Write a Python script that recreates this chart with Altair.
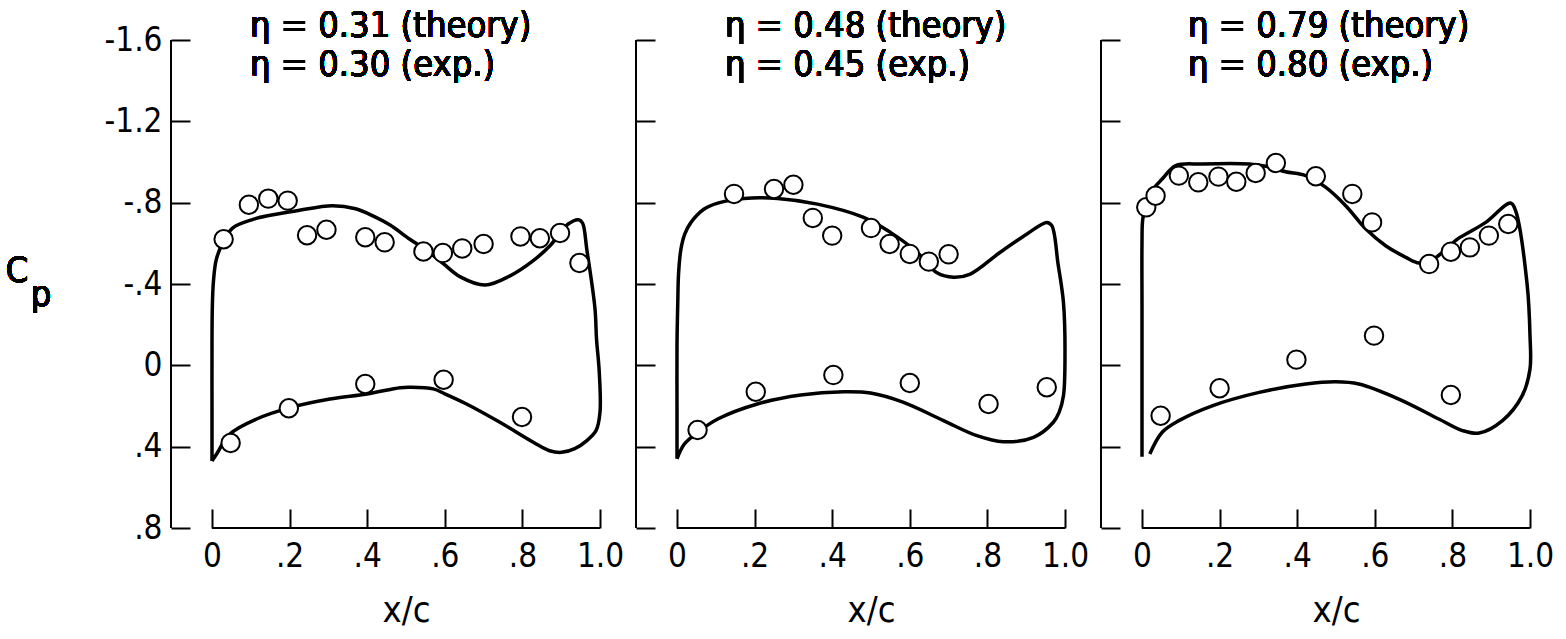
import altair as alt
import pandas as pd

FONT = "DejaVu Sans Condensed"
TICK_FONT = "DejaVu Sans Condensed"

# ---------------- data ----------------
titles = [
    ["η = 0.31 (theory)", "η = 0.30 (exp.)"],
    ["η = 0.48 (theory)", "η = 0.45 (exp.)"],
    ["η = 0.79 (theory)", "η = 0.80 (exp.)"],
]

# theory curves: path around the section (LE -> upper -> TE -> lower)
th1_x = [0.000, 0.000, 0.000, 0.001, 0.004, 0.011, 0.027, 0.053, 0.106, 0.150, 0.218, 0.310,
         0.370, 0.420, 0.459, 0.510, 0.550, 0.596, 0.640, 0.704, 0.768, 0.828, 0.871, 0.918,
         0.945, 0.955, 0.966, 0.987, 0.991, 0.998, 1.000, 0.990, 0.966, 0.935, 0.901, 0.870,
         0.828, 0.742, 0.656, 0.600, 0.570, 0.510, 0.485, 0.399, 0.304, 0.204, 0.115, 0.046,
         0.012, 0.000]
th1_cp = [0.47, 0.20, -0.10, -0.30, -0.42, -0.52, -0.60, -0.675, -0.718, -0.738, -0.760, -0.785,
          -0.770, -0.730, -0.690, -0.620, -0.570, -0.500, -0.435, -0.395, -0.440, -0.515, -0.588, -0.695,
          -0.716, -0.700, -0.570, -0.280, -0.130, 0.030, 0.230, 0.320, 0.370, 0.410, 0.428, 0.420,
          0.378, 0.280, 0.190, 0.140, 0.116, 0.108, 0.110, 0.141, 0.166, 0.207, 0.264, 0.338,
          0.436, 0.470]

th2_x = [0.000, 0.000, 0.000, 0.002, 0.004, 0.010, 0.020, 0.036, 0.070, 0.105, 0.173, 0.259,
         0.362, 0.481, 0.550, 0.619, 0.670, 0.713, 0.756, 0.833, 0.902, 0.953, 0.966, 0.982,
         0.996, 1.000, 0.996, 0.985, 0.970, 0.919, 0.841, 0.773, 0.687, 0.584, 0.499, 0.430,
         0.319, 0.207, 0.105, 0.053, 0.019, 0.000]
th2_cp = [0.46, 0.20, -0.10, -0.31, -0.45, -0.57, -0.645, -0.703, -0.769, -0.798, -0.821, -0.821,
          -0.793, -0.728, -0.654, -0.556, -0.455, -0.433, -0.449, -0.556, -0.646, -0.703, -0.687, -0.500,
          -0.310, -0.060, 0.150, 0.230, 0.280, 0.354, 0.376, 0.346, 0.272, 0.182, 0.136, 0.130,
          0.146, 0.190, 0.264, 0.330, 0.387, 0.460]

th3_x = [0.000, 0.000, 0.000, 0.000, 0.002, 0.012, 0.030, 0.052, 0.087, 0.155, 0.276, 0.330,
         0.370, 0.422, 0.473, 0.525, 0.577, 0.628, 0.680, 0.714, 0.745, 0.780, 0.813, 0.843,
         0.886, 0.950, 0.963, 0.993, 1.000, 1.000, 0.980, 0.929, 0.869, 0.826, 0.765, 0.662,
         0.559, 0.499, 0.422, 0.302, 0.181, 0.095, 0.052, 0.020]
th3_cp = [0.45, 0.10, -0.30, -0.60, -0.72, -0.80, -0.87, -0.916, -0.982, -0.990, -0.990, -0.975,
          -0.952, -0.933, -0.876, -0.785, -0.670, -0.588, -0.531, -0.503, -0.515, -0.565, -0.621, -0.654,
          -0.703, -0.798, -0.760, -0.390, -0.146, 0.018, 0.149, 0.272, 0.333, 0.321, 0.264, 0.166,
          0.092, 0.081, 0.092, 0.133, 0.199, 0.272, 0.329, 0.436]

# experiment points
ex1_x = [0.030, 0.095, 0.145, 0.195, 0.245, 0.295, 0.395, 0.445, 0.545, 0.595, 0.645, 0.700,
         0.795, 0.845, 0.897, 0.947, 0.048, 0.198, 0.395, 0.597, 0.799]
ex1_cp = [-0.62, -0.79, -0.82, -0.81, -0.64, -0.667, -0.63, -0.605, -0.56, -0.552, -0.575, -0.597,
          -0.634, -0.625, -0.651, -0.503, 0.382, 0.211, 0.092, 0.071, 0.254]

ex2_x = [0.147, 0.250, 0.300, 0.350, 0.400, 0.500, 0.548, 0.600, 0.649, 0.700,
         0.053, 0.203, 0.403, 0.600, 0.803, 0.953]
ex2_cp = [-0.843, -0.867, -0.888, -0.725, -0.638, -0.675, -0.597, -0.548, -0.510, -0.546,
          0.318, 0.130, 0.048, 0.087, 0.190, 0.108]

ex3_x = [0.011, 0.035, 0.095, 0.145, 0.197, 0.243, 0.293, 0.345, 0.448, 0.542, 0.593, 0.740,
         0.796, 0.845, 0.894, 0.944, 0.048, 0.200, 0.398, 0.598, 0.796]
ex3_cp = [-0.777, -0.834, -0.933, -0.900, -0.928, -0.903, -0.946, -0.995, -0.930, -0.843, -0.703, -0.498,
          -0.559, -0.580, -0.638, -0.695, 0.248, 0.113, -0.028, -0.146, 0.146]

y_ticks = [-1.6, -1.2, -0.8, -0.4, 0.0, 0.4, 0.8]
y_tick_labels = ["-1.6", "-1.2", "-.8", "-.4", "0", ".4", ".8"]
x_ticks = [0.0, 0.2, 0.4, 0.6, 0.8, 1.0]
x_tick_labels = ["0", ".2", ".4", ".6", ".8", "1.0"]

# ---------------- layout constants ----------------
W, H = 388, 488
TICK = 19
AX_GAP = 41
FS = 36
TFS = 33

yscale = alt.Scale(domain=[-1.6, 0.8], reverse=True, nice=False, zero=False)
xscale = alt.Scale(domain=[0, 1], nice=False, zero=False)


def arr(lst):
    return "[" + ",".join("'" + s + "'" for s in lst) + "]"


y_label_expr = arr(y_tick_labels) + "[round((datum.value + 1.6) / 0.4)]"
x_label_expr = arr(x_tick_labels) + "[round(datum.value / 0.2)]"


def make_axes(show_labels):
    yaxis = alt.Axis(values=y_ticks, orient="left", offset=AX_GAP - TICK, tickSize=TICK,
                     tickWidth=2, tickColor="black", domain=False, grid=False,
                     labels=show_labels, labelExpr=y_label_expr, labelFont=TICK_FONT,
                     labelFontSize=TFS, labelColor="black", labelPadding=9, title=None)
    xaxis = alt.Axis(values=x_ticks, orient="bottom", offset=-TICK, tickSize=TICK,
                     tickWidth=2, tickColor="black", domain=False, grid=False,
                     labelExpr=x_label_expr, labelFont=TICK_FONT, labelFontSize=TFS,
                     labelColor="black", labelPadding=12, labelFlush=False,
                     title="x/c", titleFont=FONT, titleFontSize=FS, titleFontWeight="normal",
                     titleColor="black", titlePadding=20)
    return xaxis, yaxis


def panel(tx, tcp, ex, ecp, title_lines, title_dx, first):
    xaxis, yaxis = make_axes(first)
    theory = pd.DataFrame({"x": tx, "cp": tcp, "i": list(range(len(tx)))})
    exp = pd.DataFrame({"x": ex, "cp": ecp})

    ydomain = alt.Chart(theory).mark_rule(color="black", strokeWidth=2).encode(
        x=alt.value(-AX_GAP), y=alt.value(0), y2=alt.value(H))
    xbase = alt.Chart(theory).mark_rule(color="black", strokeWidth=2).encode(
        x=alt.value(0), x2=alt.value(W), y=alt.value(H))

    line = alt.Chart(theory).mark_line(color="black", strokeWidth=3.5,
                                       interpolate="catmull-rom").encode(
        x=alt.X("x:Q", scale=xscale, axis=xaxis),
        y=alt.Y("cp:Q", scale=yscale, axis=yaxis),
        order="i:Q")
    pts = alt.Chart(exp).mark_point(shape="circle", filled=False, fill="white", fillOpacity=1,
                                    color="black", stroke="black", strokeWidth=2,
                                    size=340, opacity=1).encode(
        x=alt.X("x:Q", scale=xscale, axis=xaxis),
        y=alt.Y("cp:Q", scale=yscale, axis=yaxis))

    t1 = alt.Chart(theory).mark_text(text=title_lines[0], align="left", baseline="middle",
                                     font=FONT, fontSize=FS, color="black").encode(
        x=alt.value(title_dx), y=alt.value(-14))
    t2 = alt.Chart(theory).mark_text(text=title_lines[1], align="left", baseline="middle",
                                     font=FONT, fontSize=FS, color="black").encode(
        x=alt.value(title_dx), y=alt.value(25))
    layers = [ydomain, xbase, line, pts, t1, t2]
    if first:
        c = alt.Chart(theory).mark_text(text="C", align="center", baseline="alphabetic",
                                        font=FONT, fontSize=FS, color="black").encode(
            x=alt.value(-195), y=alt.value(242))
        p = alt.Chart(theory).mark_text(text="p", align="center", baseline="alphabetic",
                                        font=FONT, fontSize=FS, color="black").encode(
            x=alt.value(-171), y=alt.value(266))
        layers += [c, p]
    return alt.layer(*layers).properties(width=W, height=H)


p1 = panel(th1_x, th1_cp, ex1_x, ex1_cp, titles[0], 38, True)
p2 = panel(th2_x, th2_cp, ex2_x, ex2_cp, titles[1], 48, False)
p3 = panel(th3_x, th3_cp, ex3_x, ex3_cp, titles[2], 46, False)

chart = alt.hconcat(p1, p2, p3, spacing=77, bounds="flush").properties(
    padding={"left": 5, "top": 8, "right": 5, "bottom": 5},
    background="white",
).configure_view(stroke=None)

chart.save("out.html", embed_options={"renderer": "svg", "actions": False})
